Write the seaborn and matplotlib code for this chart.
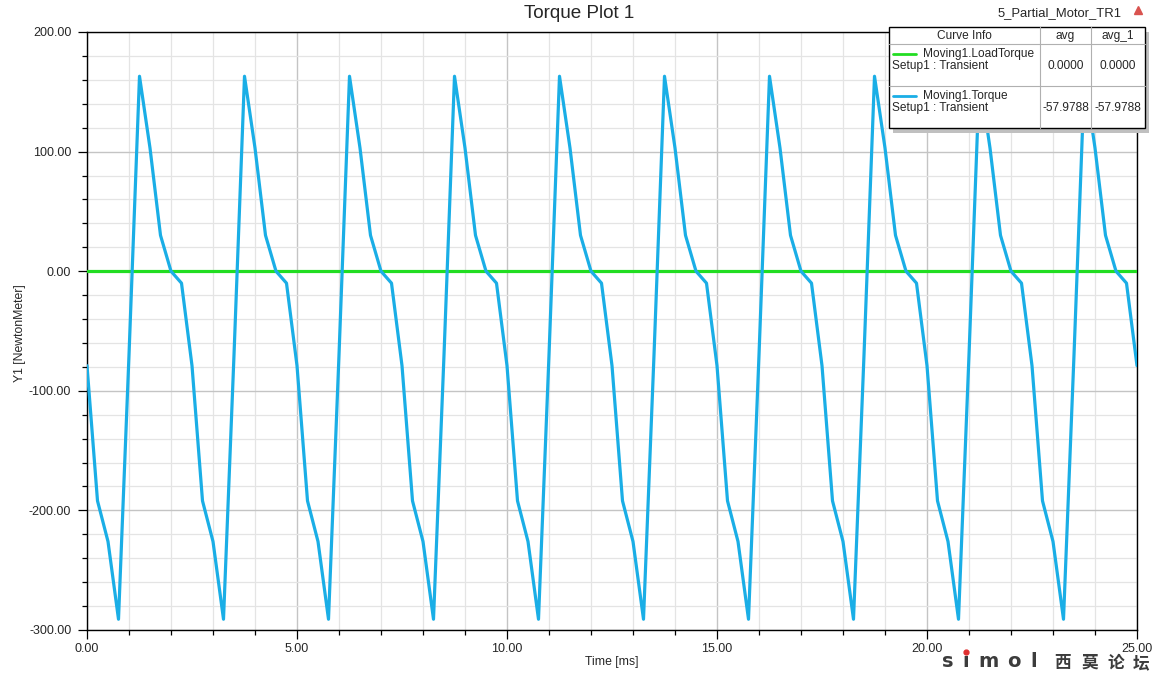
import numpy as np
import pandas as pd
import matplotlib
matplotlib.use("Agg")
import matplotlib.pyplot as plt
import seaborn as sns
from matplotlib.ticker import MultipleLocator, FormatStrFormatter
from matplotlib.patches import Rectangle
from matplotlib.lines import Line2D

# ---------------- data ----------------
time_ms = np.linspace(0.0, 25.0, 101)          # sample times, 0.25 ms step

torque_nm = [
    -79, -192, -226, -291, -70, 163, 103, 30, 0, -10,
    -79, -192, -226, -291, -70, 163, 103, 30, 0, -10,
    -79, -192, -226, -291, -70, 163, 103, 30, 0, -10,
    -79, -192, -226, -291, -70, 163, 103, 30, 0, -10,
    -79, -192, -226, -291, -70, 163, 103, 30, 0, -10,
    -79, -192, -226, -291, -70, 163, 103, 30, 0, -10,
    -79, -192, -226, -291, -70, 163, 103, 30, 0, -10,
    -79, -192, -226, -291, -70, 163, 103, 30, 0, -10,
    -79, -192, -226, -291, -70, 163, 103, 30, 0, -10,
    -79, -192, -226, -291, -70, 163, 103, 30, 0, -10,
    -79,
]
load_torque_nm = [0.0] * 101

curve_names = ["Moving1.LoadTorque", "Moving1.Torque"]
curve_setup = ["Setup1 : Transient", "Setup1 : Transient"]
curve_avg = ["0.0000", "-57.9788"]
curve_avg_1 = ["0.0000", "-57.9788"]

title = "Torque Plot 1"
design_name = "5_Partial_Motor_TR1"
x_label = "Time [ms]"
y_label = "Y1 [NewtonMeter]"
watermark_latin = "simol"
watermark_cjk = "西莫论坛"

green = "#22dd22"
cyan = "#1aaee6"

# ---------------- figure ----------------
sns.set_style("white")
plt.rcParams["font.family"] = ["Liberation Sans", "Noto Sans CJK SC", "DejaVu Sans"]

W, H = 1163, 678
fig = plt.figure(figsize=(W / 100, H / 100), dpi=100)

def fx(px):
    return px / W

def fy(py):
    return 1 - py / H

ax = fig.add_axes([fx(87), fy(630), fx(1137) - fx(87), fy(32) - fy(630)])

df = pd.DataFrame({"t": time_ms, "load": load_torque_nm, "torque": torque_nm})
sns.lineplot(data=df, x="t", y="load", color=green, lw=2.3, ax=ax, zorder=3)
sns.lineplot(data=df, x="t", y="torque", color=cyan, lw=2.3, ax=ax, zorder=4)

ax.set_xlim(0, 25)
ax.set_ylim(-300, 200)
ax.xaxis.set_major_locator(MultipleLocator(5))
ax.xaxis.set_minor_locator(MultipleLocator(1))
ax.yaxis.set_major_locator(MultipleLocator(100))
ax.yaxis.set_minor_locator(MultipleLocator(20))
ax.xaxis.set_major_formatter(FormatStrFormatter("%.2f"))
ax.yaxis.set_major_formatter(FormatStrFormatter("%.2f"))

ax.set_axisbelow(True)
ax.grid(which="minor", color="#e4e4e4", lw=0.9)
ax.grid(which="major", color="#c4c4c4", lw=1.0)

ax.tick_params(which="major", direction="out", length=6.5, width=0.9, color="black",
               labelsize=9, bottom=True, left=True)
ax.tick_params(axis="y", which="major", pad=4.8)
ax.tick_params(axis="x", which="major", pad=2.5)
ax.tick_params(which="minor", direction="out", length=3.6, width=0.9, color="black",
               bottom=True, left=True)
for s in ax.spines.values():
    s.set_color("black")
    s.set_linewidth(1.0)

ax.set_xlabel(x_label, fontsize=8.8)
ax.set_ylabel(y_label, fontsize=8.8)
ax.xaxis.set_label_coords((612 - 87) / 1050, -(656 - 630) / 598)
ax.yaxis.set_label_coords((26 - 87) / 1050, (630 - 333) / 598)

fig.text(fx(579), fy(13), title, fontsize=13.6, ha="center", va="center")
fig.text(fx(1060), fy(13), design_name, fontsize=9.4, ha="center", va="center")
fig.add_artist(Line2D([fx(1138)], [fy(10)], marker="^", markersize=6,
                      color="#d9534f", transform=fig.transFigure))

# ---------------- curve info table ----------------
L, R, T, B = 889, 1145, 27, 128
c1, c2 = 1040, 1091
r1, r2 = 44, 86
fig.add_artist(Rectangle((fx(L + 4), fy(B + 5)), fx(R) - fx(L), fy(T) - fy(B),
                         transform=fig.transFigure, facecolor="#c0c0c0",
                         edgecolor="none", zorder=10))
fig.add_artist(Rectangle((fx(L), fy(B)), fx(R) - fx(L), fy(T) - fy(B),
                         transform=fig.transFigure, facecolor="white",
                         edgecolor="black", lw=1.0, zorder=11))
for xx in (c1, c2):
    fig.add_artist(Line2D([fx(xx), fx(xx)], [fy(T), fy(B)], color="#b0b0b0",
                          lw=0.8, transform=fig.transFigure, zorder=12))
for yy in (r1, r2):
    fig.add_artist(Line2D([fx(L), fx(R)], [fy(yy), fy(yy)], color="#b0b0b0",
                          lw=0.8, transform=fig.transFigure, zorder=12))

fs = 8.6
fig.text(fx((L + c1) / 2), fy(36), "Curve Info", fontsize=fs, ha="center", va="center", zorder=13)
fig.text(fx((c1 + c2) / 2), fy(36), "avg", fontsize=fs, ha="center", va="center", zorder=13)
fig.text(fx((c2 + R) / 2), fy(36), "avg_1", fontsize=fs, ha="center", va="center", zorder=13)

rows_y = [(54, 66), (96, 108)]
colors = [green, cyan]
for i in range(2):
    ya, yb = rows_y[i]
    fig.add_artist(Line2D([fx(893), fx(916)], [fy(ya), fy(ya)], color=colors[i], lw=2.0,
                          transform=fig.transFigure, zorder=13))
    fig.text(fx(923), fy(ya), curve_names[i], fontsize=fs, ha="left", va="center", zorder=13)
    fig.text(fx(892), fy(yb), curve_setup[i], fontsize=fs, ha="left", va="center", zorder=13)
    fig.text(fx((c1 + c2) / 2), fy(yb), curve_avg[i], fontsize=fs, ha="center", va="center", zorder=13)
    fig.text(fx((c2 + R) / 2), fy(yb), curve_avg_1[i], fontsize=fs, ha="center", va="center", zorder=13)

# ---------------- watermark (forum logo text) ----------------
wm_color = "#3c3c3c"
lat_x = [948, 966, 988, 1014, 1034]
for ch, xx in zip(watermark_latin, lat_x):
    glyph = "ı" if ch == "i" else ch
    fig.text(fx(xx), fy(667), glyph, fontsize=14, fontweight="bold", color=wm_color,
             ha="center", va="baseline", family=["DejaVu Sans"])
fig.add_artist(Line2D([fx(966)], [fy(652)], marker="o", markersize=3.5,
                      color="#e03030", transform=fig.transFigure))
cjk_x = [1063, 1090, 1116, 1141]
for ch, xx in zip(watermark_cjk, cjk_x):
    fig.text(fx(xx), fy(663), ch, fontsize=12, color=wm_color, fontweight="bold",
             ha="center", va="center", family=["Noto Sans CJK SC", "DejaVu Sans"])

fig.savefig("out.png", dpi=100)
